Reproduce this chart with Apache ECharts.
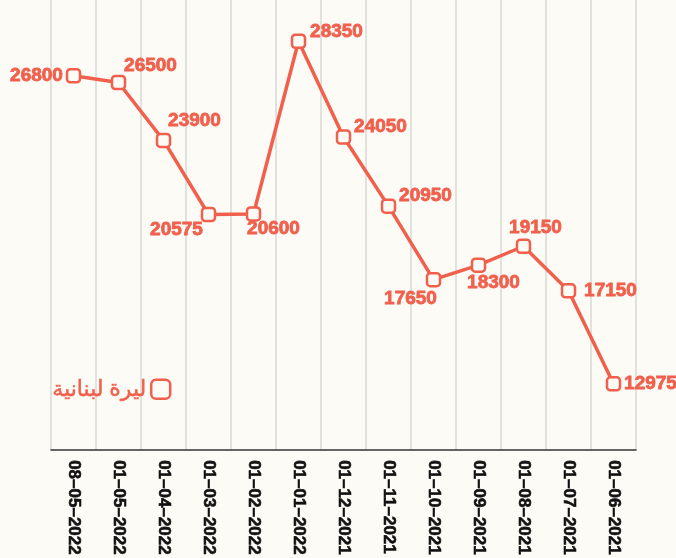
<!DOCTYPE html>
<html>
<head>
<meta charset="utf-8">
<script src="https://cdn.jsdelivr.net/npm/echarts@6/dist/echarts.min.js"></script>
<style>
html,body{margin:0;padding:0;background:#fcfbf5;}
#chart{width:676px;height:558px;}
</style>
</head>
<body>
<div id="chart"></div>
<script>
const categories = ['08–05–2022','01–05–2022','01–04–2022','01–03–2022','01–02–2022','01–01–2022','01–12–2021','01–11–2021','01–10–2021','01–09–2021','01–08–2021','01–07–2021','01–06–2021'];
const values = [26800, 26500, 23900, 20575, 20600, 28350, 24050, 20950, 17650, 18300, 19150, 17150, 12975];
const seriesName = 'ليرة لبنانية';

// label placement offsets (layout only)
const labelOffsets = [[-37,0],[32,-17],[31,-20],[-32,15],[20,15],[38,-9],[37,-10],[37,-10],[-23,19],[15,18],[12,-18],[42,0],[37,0]];

const RED = '#f0604d';
const BG = '#fcfbf5';

const chart = echarts.init(document.getElementById('chart'));
chart.setOption({
  backgroundColor: BG,
  animation: false,
  grid: {left: 51, right: 40, top: 0, bottom: 106},
  legend: {
    left: 47, top: 373,
    align: 'right',
    itemWidth: 19, itemHeight: 19,
    itemGap: 8,
    textStyle: {color: RED, fontSize: 22, fontFamily: 'Noto Sans, DejaVu Sans', textBorderColor: RED, textBorderWidth: 0.5},
    data: [{name: seriesName, icon: 'roundRect', itemStyle: {color: BG, borderColor: RED, borderWidth: 2.5}}]
  },
  xAxis: {
    type: 'category',
    data: categories,
    boundaryGap: true,
    axisLine: {lineStyle: {color: '#333', width: 1.5}},
    axisTick: {inside: true, length: 11, lineStyle: {color: '#333', width: 1.2}},
    splitLine: {show: true, lineStyle: {color: '#d9d9d6', width: 1.5}},
    axisLabel: {rotate: -90, color: '#111', fontWeight: 'bold', fontSize: 17, fontFamily: 'Liberation Sans', margin: 10, interval: 0,
      textBorderColor: '#111', textBorderWidth: 0.6}
  },
  yAxis: {
    type: 'value', min: 10000, max: 30200, show: false,
    splitLine: {show: false}
  },
  series: [{
    name: seriesName,
    type: 'line',
    data: values.map((v, i) => ({
      value: v,
      label: {offset: labelOffsets[i]}
    })),
    color: RED,
    lineStyle: {color: RED, width: 3.5},
    symbol: 'roundRect',
    symbolSize: 13,
    showAllSymbol: true,
    itemStyle: {color: BG, borderColor: RED, borderWidth: 2.5},
    label: {
      show: true, position: 'inside', align: 'center', verticalAlign: 'middle',
      color: RED, fontWeight: 'bold', fontSize: 19, fontFamily: 'Liberation Sans',
      textBorderColor: RED, textBorderWidth: 0.8
    }
  }]
});
</script>
</body>
</html>
